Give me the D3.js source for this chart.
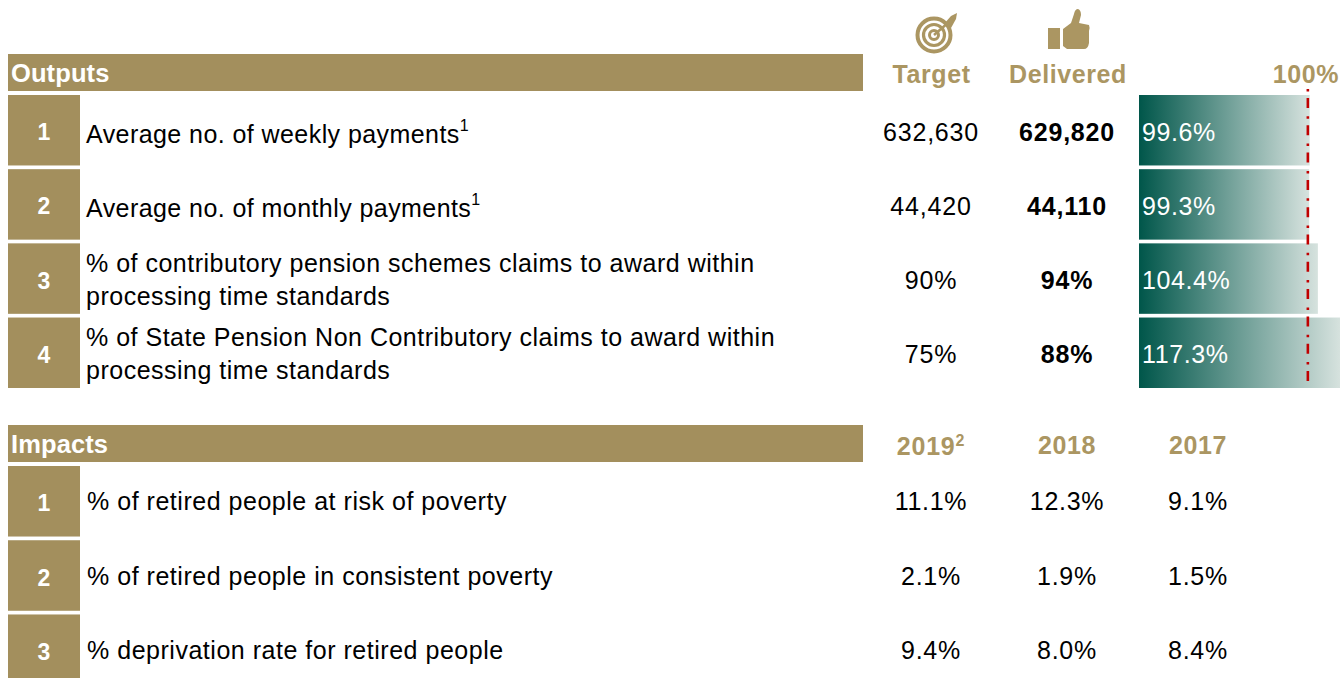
<!DOCTYPE html>
<html><head><meta charset="utf-8">
<script src="https://cdn.jsdelivr.net/npm/d3@7"></script>
<style>html,body{margin:0;padding:0;background:#fff}svg{display:block}text{font-family:"Liberation Sans",Arial,sans-serif}</style>
</head><body><div id="c"></div>
<script>
const outputLabels=[["Average no. of weekly payments"],["Average no. of monthly payments"],["% of contributory pension schemes claims to award within","processing time standards"],["% of State Pension Non Contributory claims to award within","processing time standards"]];
const outputSup=["1","1","",""];
const targets=["632,630","44,420","90%","75%"];
const delivered=["629,820","44,110","94%","88%"];
const pct=[99.6,99.3,104.4,117.3];
const impactLabels=["% of retired people at risk of poverty","% of retired people in consistent poverty","% deprivation rate for retired people"];
const y2019=["11.1%","2.1%","9.4%"];
const y2018=["12.3%","1.9%","8.0%"];
const y2017=["9.1%","1.5%","8.4%"];
const refValue=100;

const gold="#a38f5d",goldText="#ab9662";
const svg=d3.select("#c").append("svg").attr("width",1340).attr("height",678);
const defs=svg.append("defs");
const grad=defs.append("linearGradient").attr("id","g");
grad.append("stop").attr("offset",0).attr("stop-color","#00564a");
grad.append("stop").attr("offset",1).attr("stop-color","#d6e2de");
defs.append("filter").attr("id","soft").append("feGaussianBlur").attr("stdDeviation",0.6);

const x=d3.scaleLinear().domain([0,117.3]).range([1139,1340]);
const yOut=d3.scaleBand().domain(d3.range(4)).range([95,388]).paddingInner(0.05).paddingOuter(0);
const yImp=d3.scaleBand().domain(d3.range(3)).range([466,685]).paddingInner(0.05).paddingOuter(0);
const fs=25,ls=0.5;
function T(g,xx,yy,s,o={}){
 return g.append("text").attr("x",xx).attr("y",yy).attr("text-anchor",o.a||"middle")
  .attr("font-size",o.fs||fs).attr("font-weight",o.b?"bold":"normal").attr("fill",o.c||"#000")
  .attr("letter-spacing",o.ls==null?ls:o.ls).text(s);
}
const g=svg.append("g");
// headers
[[54,"Outputs"],[425,"Impacts"]].forEach(([y,s])=>{
 g.append("rect").attr("x",8).attr("y",y).attr("width",855).attr("height",37).attr("fill",gold);
 T(g,11,y+28,s,{a:"start",b:1,c:"#fff",fs:25.5,ls:0.1});
});
// number boxes and labels
function box(yy,h,i){
 g.append("rect").attr("x",8).attr("y",yy).attr("width",72).attr("height",h).attr("fill",gold);
 T(g,44,yy+h/2+10,String(i+1),{b:1,c:"#fff",fs:23,ls:0});
}
outputLabels.forEach((l,i)=>{
 const yy=yOut(i),h=yOut.bandwidth(),m=yy+h/2;
 box(yy,h,i);
 if(l.length==1){
  const t=T(g,86,m+12.5,l[0],{a:"start",ls:0.43});
  if(outputSup[i])t.append("tspan").attr("dy",-12).attr("font-size",16).text(outputSup[i]);
 }else{
  T(g,86,m-6.5,l[0],{a:"start"});T(g,86,m+26.5,l[1],{a:"start"});
 }
 T(g,931,m+10.5,targets[i],{ls:0.8});
 T(g,1067,m+10.5,delivered[i],{b:1,ls:0.8});
 g.append("rect").attr("x",x(0)).attr("y",yy).attr("width",x(pct[i])-x(0)).attr("height",h).attr("fill","url(#g)");
 T(g,1142,m+10.5,pct[i].toFixed(1)+"%",{a:"start",c:"#fff",ls:0.6});
});
impactLabels.forEach((l,i)=>{
 const yy=yImp(i),h=yImp.bandwidth(),m=yy+h/2;
 box(yy,h,i);
 T(g,87,m+9,l,{a:"start",ls:0.52});
 T(g,931,m+9,y2019[i],{ls:0.7});T(g,1067,m+9,y2018[i],{ls:0.7});T(g,1198,m+9,y2017[i],{ls:0.7});
});
// column heads
T(g,931.5,83,"Target",{b:1,c:goldText,fs:25,ls:0.6});
T(g,1068,83,"Delivered",{b:1,c:goldText,fs:25,ls:0.6});
T(g,1306,83,"100%",{b:1,c:goldText,fs:25,ls:0.6});
const t19=T(g,931,455,"2019",{b:1,c:goldText,fs:25,ls:0.8});
t19.append("tspan").attr("dy",-9).attr("font-size",16).text("2");
T(g,1067,454,"2018",{b:1,c:goldText,fs:25,ls:0.6});
T(g,1198,454,"2017",{b:1,c:goldText,fs:25,ls:0.6});
// reference line
g.append("line").attr("x1",x(refValue)-2.5).attr("x2",x(refValue)-2.5).attr("y1",89).attr("y2",382)
 .attr("stroke","#c00000").attr("stroke-width",2.6).attr("stroke-dasharray","2.5 6.5 10 8.3");
// target icon
const ic=g.append("g").attr("transform","translate(934,35)").attr("filter","url(#soft)");
[[16.5,4],[10.5,3.2],[4.5,3]].forEach(([r,w])=>ic.append("circle").attr("r",r).attr("fill","none").attr("stroke",goldText).attr("stroke-width",w));
ic.append("path").attr("d","M0,0L15,-13").attr("stroke",goldText).attr("stroke-width",2.5);
ic.append("path").attr("d","M10,-11L17,-19L23,-22L22,-16L17,-7Z").attr("fill",goldText);
// thumb icon
const th=g.append("g").attr("transform","translate(1048,11)").attr("fill",goldText).attr("filter","url(#soft)");
th.append("rect").attr("x",0).attr("y",17).attr("width",12).attr("height",21);
th.append("path").attr("d","M15,18L23,12L26,3Q27,-2 30,-2Q33,-1 33,4L31,12L41,14Q42,16 41,20L41,32Q40,38 36,38L19,38L15,35Z");
</script></body></html>
